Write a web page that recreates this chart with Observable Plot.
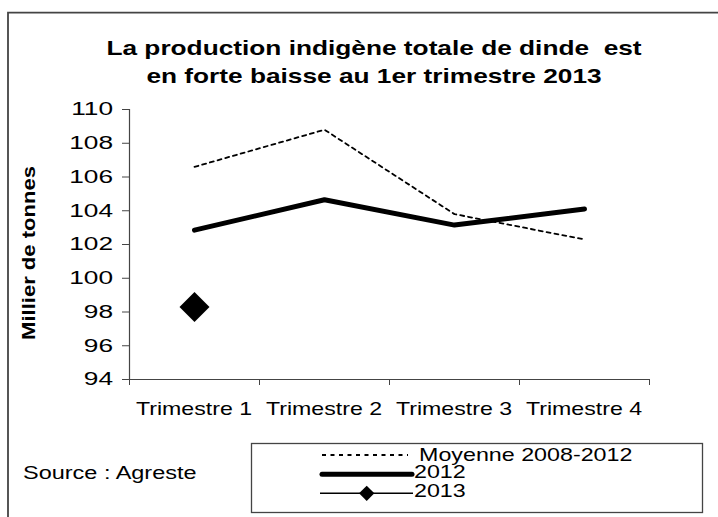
<!DOCTYPE html>
<html><head><meta charset="utf-8">
<script src="https://cdn.jsdelivr.net/npm/d3@7"></script>
<script src="https://cdn.jsdelivr.net/npm/@observablehq/plot@0.6"></script>
<style>
html,body{margin:0;padding:0;background:#fff;}
#wrap{position:relative;width:718px;height:517px;overflow:hidden;font-family:"Liberation Sans",Arial,sans-serif;color:#000;}
#wrap > svg{position:absolute;left:0;top:0;}
#overlay{pointer-events:none;}
</style>
</head><body>
<div id="wrap"></div>
<script>
// ---- data ----
const quarters = ["Trimestre 1", "Trimestre 2", "Trimestre 3", "Trimestre 4"];
const moyenne = [106.6, 108.8, 103.8, 102.3];   // Moyenne 2008-2012
const prod2012 = [102.85, 104.65, 103.15, 104.1];
const prod2013 = [98.3];                         // only Trimestre 1 available
const yTicks = [94, 96, 98, 100, 102, 104, 106, 108, 110];
const title = ["La production indigène totale de dinde  est", "en forte baisse au 1er trimestre 2013"];
const yLabel = "Millier de tonnes";
const source = "Source : Agreste";
const seriesNames = ["Moyenne 2008-2012", "2012", "2013"];

const toRows = (vals) => vals.map((v, i) => ({q: i + 0.5, v}));
const boundaries = d3.range(0, quarters.length + 1);
const centers = quarters.map((_, i) => i + 0.5);
const SX = 1.25;

const chart = Plot.plot({
  width: 718, height: 430,
  marginLeft: 129, marginRight: 69, marginTop: 109, marginBottom: 51,
  x: {domain: [0, quarters.length], axis: null},
  y: {domain: [94, 110], axis: null},
  style: {fontFamily: "'Liberation Sans', Arial, sans-serif", fontSize: "18.5px", color: "#000", background: "transparent", overflow: "visible"},
  marks: [
    Plot.axisY({ticks: yTicks, tickSize: 7, tickFormat: () => "", label: null, stroke: "#444"}),
    Plot.axisX({ticks: boundaries, tickSize: 6, tickFormat: () => "", label: null, stroke: "#444"}),
    Plot.ruleX([0], {stroke: "#444", strokeWidth: 1.2}),
    Plot.ruleY([94], {stroke: "#444", strokeWidth: 1.2}),
    Plot.line(toRows(moyenne), {x: "q", y: "v", stroke: "#000", strokeWidth: 1.8, strokeDasharray: "4,4"}),
    Plot.line(toRows(prod2012), {x: "q", y: "v", stroke: "#000", strokeWidth: 5, strokeLinecap: "round", strokeLinejoin: "round"}),
    Plot.dot(toRows(prod2013), {x: "q", y: "v", symbol: "diamond2", r: 13.5, fill: "#000", stroke: "none"})
  ]
});
document.getElementById("wrap").appendChild(chart);
const xs = chart.scale("x"), ys = chart.scale("y");

// ---- overlay: tick labels (via Plot scales), frame, title, y label, source, legend ----
const ov = d3.select("#wrap").append("svg").attr("id", "overlay")
  .attr("width", 718).attr("height", 517)
  .style("font-family", "'Liberation Sans', Arial, sans-serif");

// y tick labels
ov.append("g").selectAll("text").data(yTicks).join("text")
  .attr("transform", d => `translate(${xs.apply(0) - 16},${ys.apply(d)}) scale(1.42,1)`)
  .attr("text-anchor", "end").attr("dy", "0.35em").attr("font-size", 18.5).text(d => d);
// x tick labels
ov.append("g").selectAll("text").data(centers).join("text")
  .attr("transform", d => `translate(${xs.apply(d)},${ys.apply(94) + 36}) scale(${SX},1)`)
  .attr("text-anchor", "middle").attr("font-size", 18.5).text((d, i) => quarters[i]);

ov.append("path").attr("d", "M8,518V12.7H720").attr("fill", "none").attr("stroke", "#444").attr("stroke-width", 1.8);

ov.selectAll("text.title").data(title).join("text").attr("class", "title")
  .attr("transform", (d, i) => `translate(374,${55 + i * 28}) scale(${SX},1)`)
  .attr("text-anchor", "middle").attr("font-weight", "bold").attr("font-size", 21)
  .style("white-space", "pre").text(d => d);

ov.append("text").attr("transform", `translate(35,253) rotate(-90) scale(1.16,1)`)
  .attr("text-anchor", "middle").attr("font-weight", "bold").attr("font-size", 19).text(yLabel);

ov.append("text").attr("transform", `translate(23,479) scale(1.27,1)`)
  .attr("font-size", 18.5).text(source);

ov.append("rect").attr("x", 251.5).attr("y", 443.5).attr("width", 451).attr("height", 69)
  .attr("fill", "none").attr("stroke", "#444").attr("stroke-width", 1.3);

const legY = [455, 474.3, 493.3];
const legBase = [461, 478, 497];
const lg = ov.append("g");
lg.append("line").attr("x1", 322).attr("x2", 408).attr("y1", legY[0]).attr("y2", legY[0])
  .attr("stroke", "#000").attr("stroke-width", 1.8).attr("stroke-dasharray", "4,4.5");
lg.append("line").attr("x1", 322).attr("x2", 412).attr("y1", legY[1]).attr("y2", legY[1])
  .attr("stroke", "#000").attr("stroke-width", 5).attr("stroke-linecap", "round");
lg.append("line").attr("x1", 320).attr("x2", 413).attr("y1", legY[2]).attr("y2", legY[2])
  .attr("stroke", "#000").attr("stroke-width", 1.5);
lg.append("path").attr("d", d3.symbol(d3.symbolDiamond2, 150)()).attr("transform", `translate(366.7,${legY[2]})`).attr("fill", "#000");
lg.selectAll("text.leg").data(seriesNames).join("text").attr("class", "leg")
  .attr("transform", (d, i) => `translate(${i === 0 ? 419 : 414},${legBase[i]}) scale(1.33,1)`)
  .attr("font-size", 17.5).text(d => d);
</script>
</body></html>
